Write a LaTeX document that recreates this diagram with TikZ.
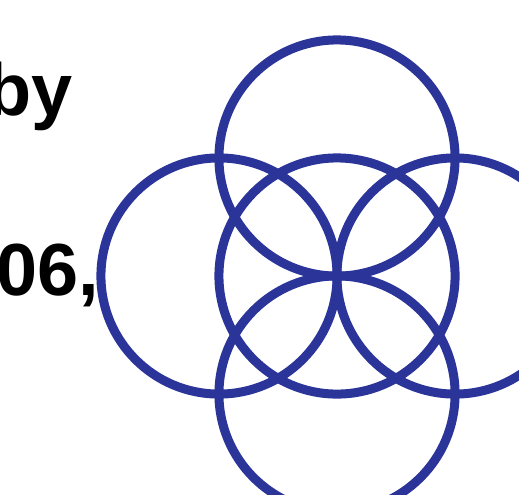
\documentclass[tikz,border=0pt]{standalone}
\usepackage{fontspec}
\setmainfont{Liberation Sans}
\definecolor{ringblue}{RGB}{43,52,153}
\begin{document}
\begin{tikzpicture}[
    x=0.01cm, y=-0.01cm,
    ring/.style={
        circle,
        draw=ringblue,
        line width=0.09cm,
        inner sep=0pt,
        minimum size=2.36cm
    },
    word/.style={
        anchor=base east,
        inner sep=0pt,
        font=\bfseries\fontsize{21}{25}\selectfont
    }
]
    \useasboundingbox (0,0) rectangle (519,494);
    \node[word] (by) at (73,115) {by};
    \node[word] (year) at (100,295) {06,};

    \node[ring] (mid) at (337,276) {};
    \node[ring] (up) at (337,158) {};
    \node[ring] (down) at (337,394) {};
    \node[ring] (west) at (219,276) {};
    \node[ring] (east) at (455,276) {};
\end{tikzpicture}
\end{document}
